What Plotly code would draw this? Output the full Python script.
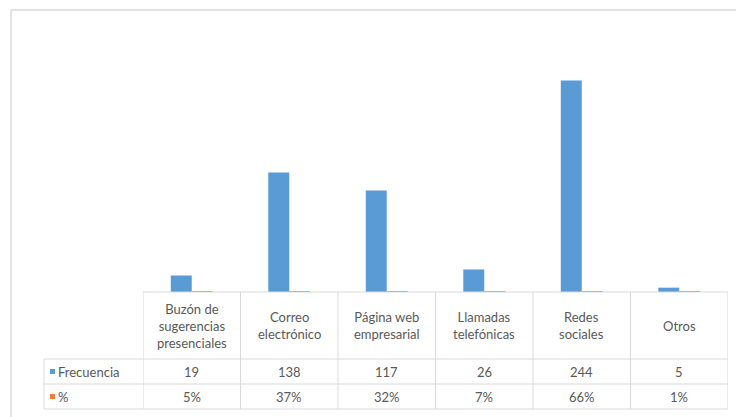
import plotly.graph_objects as go

# Data
categorias = ["Buzón de<br>sugerencias<br>presenciales", "Correo<br>electrónico",
              "Página web<br>empresarial", "Llamadas<br>telefónicas",
              "Redes<br>sociales", "Otros"]
frecuencia = [19, 138, 117, 26, 244, 5]
porcentaje = [0.05, 0.37, 0.32, 0.07, 0.66, 0.01]
series = ["Frecuencia", "%"]

W, H = 736, 417
AZUL = "#5b9bd5"
NARANJA = "#ed7d31"
GRIS_LINEA = "#d9d9d9"
GRIS_TEXTO = "#595959"
FUENTE = "Lato, 'Open Sans', sans-serif"

# table geometry in pixels
x_izq, x_der = 143, 728           # data columns span
x_leyenda = 44                    # left edge of the series-name column
y_base = 292                      # bar baseline / table top
filas = [y_base, 359, 384, 409]   # header row, Frecuencia row, % row


def px(x):
    return x / W


def py(y):
    return (H - y) / H


idx = list(range(len(categorias)))

fig = go.Figure()
fig.add_trace(go.Bar(x=idx, y=frecuencia, name=series[0], marker_color=AZUL,
                     marker_line_width=0))
fig.add_trace(go.Bar(x=idx, y=porcentaje, name=series[1], marker_color=NARANJA,
                     marker_line_width=0))

shapes = []
annotations = []


def linea(x0, x1, y0, y1, xref="paper", width=1):
    shapes.append(dict(type="line", xref=xref, yref="paper",
                       x0=x0, x1=x1, y0=y0, y1=y1,
                       line=dict(color=GRIS_LINEA, width=width)))


# outer chart frame (left and top edges)
linea(px(11), px(11), py(10), py(H + 2), width=1.5)
linea(px(11), px(W + 2), py(10), py(10), width=1.5)

# horizontal table lines
linea(px(x_izq), px(x_der), py(filas[0]), py(filas[0]))
for yy in filas[1:]:
    linea(px(x_leyenda), px(x_der), py(yy), py(yy))

# vertical table lines at category boundaries
for i in range(len(categorias) + 1):
    linea(i - 0.5, i - 0.5, py(filas[-1]), py(filas[0]), xref="x")
linea(px(x_leyenda), px(x_leyenda), py(filas[-1]), py(filas[1]))

fuente = dict(family=FUENTE, size=13, color=GRIS_TEXTO)

# header cells
for i, cat in enumerate(categorias):
    annotations.append(dict(x=i, xref="x", y=py((filas[0] + filas[1]) / 2), yref="paper",
                            text=cat, showarrow=False, align="center",
                            xanchor="center", yanchor="middle", font=fuente))

# value rows
valores = [[str(v) for v in frecuencia], [f"{round(p * 100)}%" for p in porcentaje]]
colores = [AZUL, NARANJA]
for r in range(2):
    yc = (filas[r + 1] + filas[r + 2]) / 2
    for i, txt in enumerate(valores[r]):
        annotations.append(dict(x=i, xref="x", y=py(yc), yref="paper", text=txt,
                                showarrow=False, xanchor="center", yanchor="middle",
                                font=fuente))
    # series key and name
    shapes.append(dict(type="rect", xref="paper", yref="paper",
                       x0=px(50), x1=px(55), y0=py(yc + 2.5), y1=py(yc - 2.5),
                       fillcolor=colores[r], line=dict(width=0)))
    annotations.append(dict(x=px(56), xref="paper", y=py(yc), yref="paper",
                            text=series[r], showarrow=False, xanchor="left",
                            yanchor="middle", font=fuente))

fig.update_layout(
    width=W, height=H,
    margin=dict(l=0, r=0, t=0, b=0),
    paper_bgcolor="white", plot_bgcolor="white",
    showlegend=False,
    barmode="group", bargap=0.57, bargroupgap=0,
    xaxis=dict(domain=[px(x_izq), px(x_der)], range=[-0.5, len(categorias) - 0.5],
               showticklabels=False, showgrid=False, zeroline=False, ticks=""),
    yaxis=dict(domain=[py(y_base), py(32)], range=[0, 300],
               showticklabels=False, showgrid=False, zeroline=False, ticks=""),
    shapes=shapes,
    annotations=annotations,
)

fig.write_html("out.html")
